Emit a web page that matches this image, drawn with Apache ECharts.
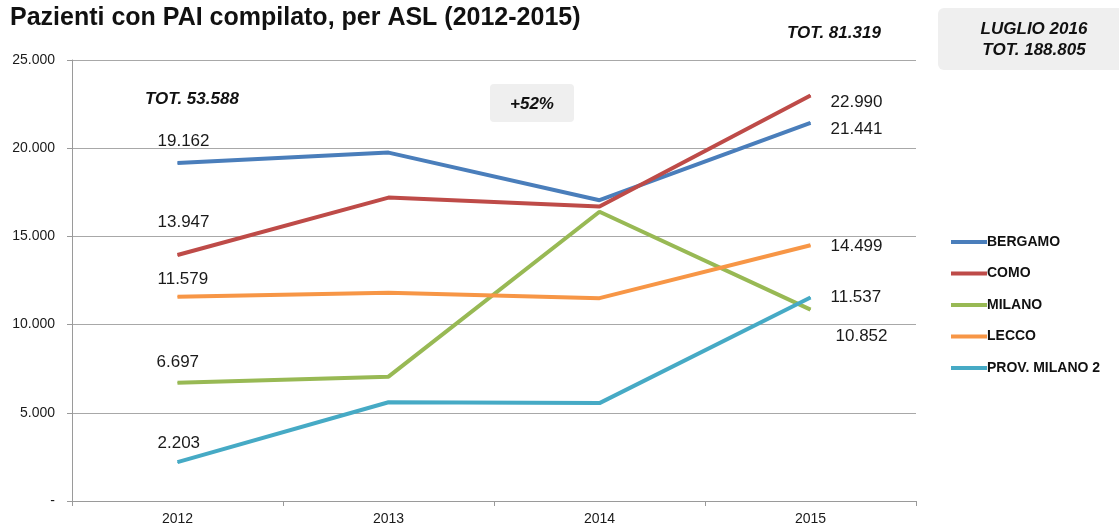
<!DOCTYPE html>
<html>
<head>
<meta charset="utf-8">
<script src="https://cdn.jsdelivr.net/npm/echarts@6/dist/echarts.min.js"></script>
<style>
  html, body { margin: 0; padding: 0; background: #fff; }
  #chart { width: 1119px; height: 526px; }
</style>
</head>
<body>
<div id="chart"></div>
<script>
// Years on the x axis
const years = ['2012', '2013', '2014', '2015'];

// Patients with a compiled PAI, per ASL
const bergamo = [19162, 19750, 17050, 21441];
const como = [13947, 17200, 16700, 22990];
const milano = [6697, 7050, 16400, 10852];
const lecco = [11579, 11800, 11500, 14499];
const provMilano2 = [2203, 5600, 5550, 11537];

const seriesNames = ['BERGAMO', 'COMO', 'MILANO', 'LECCO', 'PROV. MILANO 2'];
const seriesValues = [bergamo, como, milano, lecco, provMilano2];

// Value-axis ticks
const yTicks = [0, 5000, 10000, 15000, 20000, 25000];

// Annotation texts
const totStart = 'TOT. 53.588';
const growth = '+52%';
const totEnd = 'TOT. 81.319';
const julyTotal = 'LUGLIO 2016\nTOT. 188.805';

// Styling: colours and end-label offsets (first point, last point)
const colors = ['#4a7ebb', '#be4b48', '#98b954', '#f79646', '#46aac5'];
const labelOffsets = [
  [[-20, -22], [20, 7]],
  [[-20, -33], [20, 7]],
  [[-21, -21], [25, 27]],
  [[-20, -17], [20, 1]],
  [[-20, -19], [20, 0]]
];

const fmt = v => v === 0 ? '-' : String(v).replace(/\B(?=(\d{3})+(?!\d))/g, '.');
const FONT = '"Liberation Sans", Arial, Helvetica, sans-serif';

const series = seriesNames.map((name, s) => ({
  name,
  type: 'line',
  symbol: 'circle',
  symbolSize: 1,
  showSymbol: true,
  color: colors[s],
  lineStyle: { width: 4, color: colors[s] },
  emphasis: { disabled: true },
  data: seriesValues[s].map((v, i) => {
    const last = seriesValues[s].length - 1;
    if (i !== 0 && i !== last) return v;
    const off = labelOffsets[s][i === 0 ? 0 : 1];
    return {
      value: v,
      label: {
        show: true,
        position: 'inside',
        align: 'left',
        verticalAlign: 'middle',
        offset: off,
        formatter: p => fmt(p.value),
        fontFamily: FONT,
        fontSize: 17,
        color: '#1a1a1a'
      }
    };
  })
}));

const chart = echarts.init(document.getElementById('chart'), null, { renderer: 'canvas' });
chart.setOption({
  animation: false,
  backgroundColor: '#ffffff',
  grid: { left: 72, right: 203, top: 60, bottom: 25, containLabel: false },
  xAxis: {
    type: 'category',
    data: years,
    boundaryGap: true,
    axisLine: { lineStyle: { color: '#9a9a9a', width: 1 } },
    axisTick: { show: true, length: 5, lineStyle: { color: '#9a9a9a' } },
    axisLabel: { fontFamily: FONT, fontSize: 14, color: '#1a1a1a', margin: 11 },
    splitLine: { show: false }
  },
  yAxis: {
    type: 'value',
    min: yTicks[0],
    max: yTicks[yTicks.length - 1],
    interval: yTicks[1] - yTicks[0],
    axisLine: { show: true, lineStyle: { color: '#9a9a9a', width: 1 } },
    axisTick: { show: true, length: 5, lineStyle: { color: '#9a9a9a' } },
    axisLabel: { formatter: fmt, fontFamily: FONT, fontSize: 14, color: '#1a1a1a', margin: 17 },
    splitLine: { show: true, lineStyle: { color: '#a8a8a8', width: 1 } }
  },
  legend: {
    orient: 'vertical',
    left: 946,
    top: 230,
    itemWidth: 36,
    itemHeight: 4,
    itemGap: 17.5,
    icon: 'rect',
    selectedMode: false,
    textStyle: { fontFamily: FONT, fontSize: 14, fontWeight: 'bold', color: '#111', padding: [0, 0, 0, -5] },
    data: seriesNames
  },
  graphic: [
    {
      type: 'text', left: 10, top: 6,
      style: { text: 'Pazienti con PAI compilato, per ASL (2012-2015)', font: 'bold 25px ' + FONT, fill: '#111' }
    },
    {
      type: 'text', left: 145, top: 91,
      style: { text: totStart, font: 'italic bold 17px ' + FONT, fill: '#111' }
    },
    {
      type: 'group', left: 490, top: 84,
      children: [
        { type: 'rect', shape: { x: 0, y: 0, width: 84, height: 38, r: 4 }, style: { fill: '#efefef' } },
        { type: 'text', x: 42, y: 20, style: { text: growth, font: 'italic bold 17px ' + FONT, fill: '#111', align: 'center', verticalAlign: 'middle' } }
      ]
    },
    {
      type: 'text', left: 787, top: 25,
      style: { text: totEnd, font: 'italic bold 17px ' + FONT, fill: '#111' }
    },
    {
      type: 'group', left: 938, top: 8,
      children: [
        { type: 'rect', shape: { x: 0, y: 0, width: 190, height: 62, r: 6 }, style: { fill: '#efefef' } },
        { type: 'text', x: 96, y: 32, style: { text: julyTotal, font: 'italic bold 17px ' + FONT, fill: '#111', align: 'center', verticalAlign: 'middle', lineHeight: 21 } }
      ]
    }
  ],
  series
});
</script>
</body>
</html>
